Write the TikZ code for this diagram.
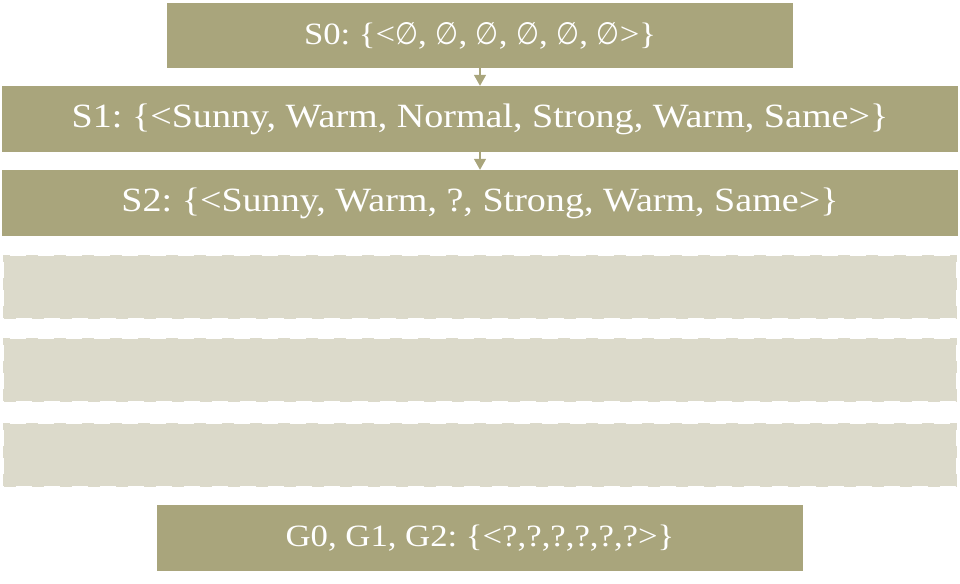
\documentclass[tikz,border=0pt]{standalone}
\usepackage{fontspec}
\setmainfont{Liberation Serif}[FakeStretch=1.12]
\newfontfamily\emptyfont{DejaVu Sans}[FakeStretch=0.85]
\newcommand{\myempty}{{\emptyfont\addfontfeature{Scale=1.0}∅}}
\usetikzlibrary{arrows.meta}
\definecolor{olive}{HTML}{A9A57C}
\definecolor{paleolive}{HTML}{DCDACB}
\tikzset{
  darkbox/.style={rectangle, fill=olive, draw=none, inner sep=0pt, text=white},
  bigtext/.style={font=\fontsize{34}{40}\selectfont\frenchspacing},
  smalltext/.style={font=\fontsize{31}{37}\selectfont\frenchspacing},
  ghostbox/.style={rectangle, fill=paleolive, draw=paleolive, line width=2pt,
    dash pattern=on 12pt off 16pt, inner sep=0pt},
  arr/.style={draw=olive, line width=1.5pt, -{Triangle[width=12pt,length=11pt]}}
}
\begin{document}
\begin{tikzpicture}[x=1pt,y=-1pt]
\useasboundingbox (0,0) rectangle (960,583);
\node[darkbox, smalltext, minimum width=626pt, minimum height=65pt] (s0) at (480,35.5) {S0: \{<\myempty, \myempty, \myempty, \myempty, \myempty, \myempty>\}};
\node[darkbox, bigtext, minimum width=956pt, minimum height=66pt] (s1) at (480,119) {S1: \{<Sunny, Warm, Normal, Strong, Warm, Same>\}};
\node[darkbox, bigtext, minimum width=956pt, minimum height=66pt] (s2) at (480,203) {S2: \{<Sunny, Warm, ?, Strong, Warm, Same>\}};
\node[ghostbox, minimum width=952pt, minimum height=62pt] (d1) at (480,287) {};
\node[ghostbox, minimum width=952pt, minimum height=62pt] (d2) at (480,370) {};
\node[ghostbox, minimum width=952pt, minimum height=62pt] (d3) at (480,455) {};
\node[darkbox, smalltext, minimum width=646pt, minimum height=66pt] (g) at (480,538) {G0, G1, G2: \{<?,?,?,?,?,?>\}};
\draw[arr] (s0) -- (s1);
\draw[arr] (s1) -- (s2);
\end{tikzpicture}
\end{document}
